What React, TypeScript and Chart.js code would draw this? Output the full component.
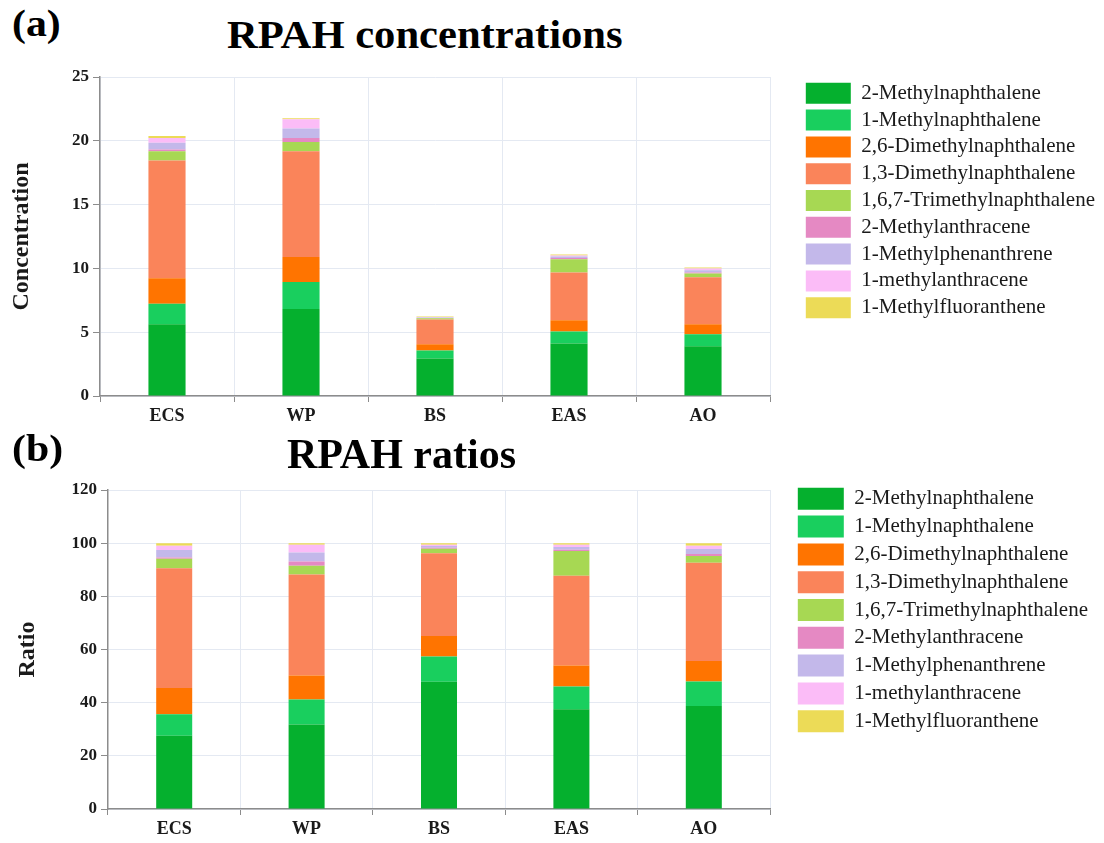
import React, { useEffect, useRef } from 'react';
import { Chart, registerables } from 'chart.js';

Chart.register(...registerables);

// ---------- data ----------
const CATEGORIES = ['ECS', 'WP', 'BS', 'EAS', 'AO'];

const SERIES_NAMES = [
  '2-Methylnaphthalene',
  '1-Methylnaphthalene',
  '2,6-Dimethylnaphthalene',
  '1,3-Dimethylnaphthalene',
  '1,6,7-Trimethylnaphthalene',
  '2-Methylanthracene',
  '1-Methylphenanthrene',
  '1-methylanthracene',
  '1-Methylfluoranthene',
];

const SERIES_COLORS = [
  '#05b02e',
  '#19cf5e',
  '#ff7400',
  '#fa845a',
  '#a7d853',
  '#e589c3',
  '#c3b8ea',
  '#fbbcf7',
  '#ecdb57',
];

// (a) concentrations
const conc2MN = [5.62, 6.82, 2.93, 4.11, 3.9];
const conc1MN = [1.6, 2.12, 0.63, 0.94, 0.94];
const conc26DMN = [2.01, 1.96, 0.49, 0.89, 0.78];
const conc13DMN = [9.23, 8.29, 1.94, 3.74, 3.69];
const conc167TMN = [0.73, 0.71, 0.1, 1.04, 0.29];
const conc2MA = [0.13, 0.31, 0.025, 0.1, 0.08];
const conc1MP = [0.52, 0.76, 0.04, 0.11, 0.18];
const conc1MA = [0.37, 0.71, 0.03, 0.08, 0.13];
const conc1MF = [0.16, 0.08, 0.04, 0.08, 0.08];

// (b) ratios (%)
const ratio2MN = [27.6, 31.8, 47.9, 37.5, 38.7];
const ratio1MN = [8.0, 9.4, 9.5, 8.6, 9.3];
const ratio26DMN = [9.9, 9.0, 7.7, 7.9, 7.7];
const ratio13DMN = [45.1, 38.0, 31.1, 33.7, 36.9];
const ratio167TMN = [3.5, 3.3, 1.7, 9.4, 2.6];
const ratio2MA = [0.5, 1.6, 0.4, 0.4, 0.7];
const ratio1MP = [2.8, 3.4, 0.6, 1.1, 1.9];
const ratio1MA = [1.6, 2.9, 0.5, 0.8, 1.2];
const ratio1MF = [1.0, 0.6, 0.6, 0.6, 1.0];

const CONC_SERIES = [conc2MN, conc1MN, conc26DMN, conc13DMN, conc167TMN, conc2MA, conc1MP, conc1MA, conc1MF];
const RATIO_SERIES = [ratio2MN, ratio1MN, ratio26DMN, ratio13DMN, ratio167TMN, ratio2MA, ratio1MP, ratio1MA, ratio1MF];

const CONC_TICK_MAX = 25;
const CONC_TICK_STEP = 5;
const RATIO_TICK_MAX = 120;
const RATIO_TICK_STEP = 20;

// ---------- styling ----------
const FONT = '"Liberation Serif", "Times New Roman", serif';
const TEXT = '#1a1a1a';
const GRID = '#e4e9f2';
const AXIS = '#8c8c8c';
const LEGEND_BOX_W = 100; // layout width reserved for the legend box
const LEGEND_DRAW_W = 330; // width the legend may draw into

const legendWidener = {
  id: 'legendWidener',
  beforeDraw(chart: any) {
    const l = chart.legend;
    if (!l) return;
    l.width = LEGEND_DRAW_W;
    l.right = l.left + LEGEND_DRAW_W;
  },
};

type Geom = {
  top: number;
  width: number;
  height: number;
  chartLeft: number;
  chartRight: number;
  padTop: number;
  topExtra: number;
  xAxisH: number;
  gapD: number;
  legendFull: boolean;
  legendPad: number;
  boxW: number;
  boxH: number;
  legendFont: number;
  barPct: number;
  yTitlePad: number;
  yTitleSize: number;
};

function StackedChart(props: { values: number[][]; yMax: number; yStep: number; yTitle: string; geom: Geom }) {
  const ref = useRef<HTMLCanvasElement>(null);
  const g = props.geom;
  useEffect(() => {
    const canvas = ref.current;
    if (!canvas) return;
    const padRight = g.width - g.chartRight - g.gapD - LEGEND_BOX_W;

    const scales: any = {
      x: {
        stacked: true,
        grid: { color: GRID, lineWidth: 1, tickColor: AXIS, tickLength: 6, offset: true },
        border: { color: AXIS, width: 1.5 },
        ticks: { color: TEXT, font: { family: FONT, size: 18, weight: 'bold' }, padding: 4, maxRotation: 0 },
        afterFit: (s: any) => {
          s.height = g.xAxisH;
        },
      },
      y: {
        stacked: true,
        min: 0,
        max: props.yMax,
        grid: { color: GRID, lineWidth: 1, tickColor: AXIS, tickLength: 7 },
        border: { color: AXIS, width: 1.5 },
        ticks: { stepSize: props.yStep, color: TEXT, font: { family: FONT, size: 17, weight: 'bold' }, padding: 4 },
        title: {
          display: true,
          text: props.yTitle,
          color: TEXT,
          font: { family: FONT, size: g.yTitleSize, weight: 'bold' },
          padding: { top: g.yTitlePad, bottom: 0 },
        },
        afterFit: (s: any) => {
          s.width = g.chartLeft;
        },
      },
      yR: {
        type: 'linear',
        position: 'right',
        display: true,
        grid: { display: false },
        border: { display: false },
        ticks: { display: false },
        afterFit: (s: any) => {
          s.width = g.gapD;
        },
      },
    };
    if (g.topExtra > 0) {
      scales.xT = {
        type: 'linear',
        axis: 'x',
        position: 'top',
        display: true,
        grid: { display: false },
        border: { display: false },
        ticks: { display: false },
        afterFit: (s: any) => {
          s.height = g.topExtra;
        },
      };
    }

    const chart = new Chart(canvas, {
      type: 'bar',
      data: {
        labels: CATEGORIES,
        datasets: SERIES_NAMES.map((name, i) => ({
          label: name,
          data: props.values[i],
          backgroundColor: SERIES_COLORS[i],
          borderWidth: 0,
          barPercentage: g.barPct,
          categoryPercentage: 1,
          stack: 's',
        })),
      },
      options: {
        responsive: false,
        animation: false,
        layout: { padding: { top: g.padTop, left: 0, right: padRight, bottom: 0 } },
        scales,
        plugins: {
          title: { display: false },
          tooltip: { enabled: false },
          legend: {
            display: true,
            position: 'right',
            align: 'start',
            fullSize: g.legendFull,
            maxWidth: LEGEND_BOX_W,
            labels: {
              boxWidth: g.boxW,
              boxHeight: g.boxH,
              padding: g.legendPad,
              color: TEXT,
              font: { family: FONT, size: g.legendFont },
            },
          },
        },
      } as any,
      plugins: [legendWidener],
    });
    return () => chart.destroy();
  }, []);
  return (
    <canvas
      ref={ref}
      width={g.width}
      height={g.height}
      style={{ position: 'absolute', left: 0, top: g.top, width: g.width, height: g.height }}
    />
  );
}

const GEOM_A: Geom = {
  top: 60,
  width: 1124,
  height: 380,
  chartLeft: 100,
  chartRight: 770,
  padTop: 17,
  topExtra: 0,
  xAxisH: 44,
  gapD: 30,
  legendFull: false,
  legendPad: 5.8,
  boxW: 45,
  boxH: 21,
  legendFont: 21,
  barPct: 0.277,
  yTitlePad: 7.6,
  yTitleSize: 24,
};

const GEOM_B: Geom = {
  top: 440,
  width: 1124,
  height: 403,
  chartLeft: 108,
  chartRight: 770,
  padTop: 42,
  topExtra: 8,
  xAxisH: 34,
  gapD: 22,
  legendFull: true,
  legendPad: 5.8,
  boxW: 46,
  boxH: 22,
  legendFont: 21,
  barPct: 0.272,
  yTitlePad: 13,
  yTitleSize: 24,
};

function Label(props: { text: string; left: number; baseline: number; size: number; stretch: number }) {
  const top = props.baseline - 0.8375 * props.size;
  return (
    <div
      style={{
        position: 'absolute',
        left: props.left,
        top,
        fontFamily: FONT,
        fontWeight: 'bold',
        fontSize: props.size,
        lineHeight: 1,
        color: '#000',
        whiteSpace: 'nowrap',
        transform: `scaleX(${props.stretch})`,
        transformOrigin: 'left center',
      }}
    >
      {props.text}
    </div>
  );
}

export default function App() {
  useEffect(() => {
    document.body.style.margin = '0';
  }, []);
  return (
    <div
      style={{
        position: 'absolute',
        left: 0,
        top: 0,
        width: 1104,
        height: 843,
        overflow: 'hidden',
        background: '#fff',
      }}
    >
      <StackedChart values={CONC_SERIES} yMax={CONC_TICK_MAX} yStep={CONC_TICK_STEP} yTitle="Concentration" geom={GEOM_A} />
      <StackedChart values={RATIO_SERIES} yMax={RATIO_TICK_MAX} yStep={RATIO_TICK_STEP} yTitle="Ratio" geom={GEOM_B} />
      <Label text="(a)" left={12} baseline={36} size={38} stretch={1.1} />
      <Label text="RPAH concentrations" left={227} baseline={48} size={40} stretch={1.065} />
      <Label text="(b)" left={12} baseline={461} size={38} stretch={1.1} />
      <Label text="RPAH ratios" left={287} baseline={468} size={42} stretch={1.0} />
    </div>
  );
}
